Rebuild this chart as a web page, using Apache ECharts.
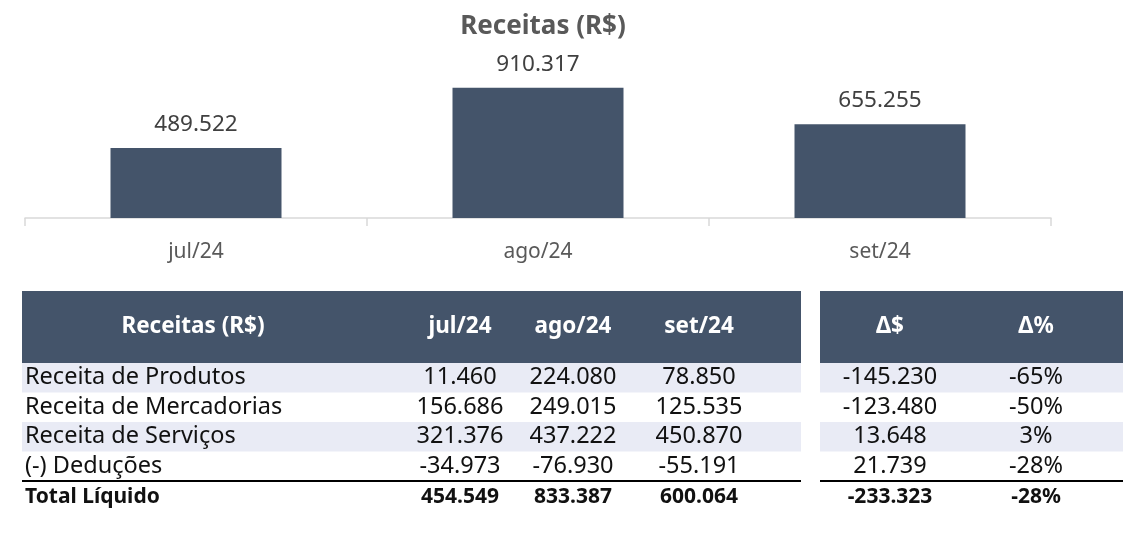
<!DOCTYPE html>
<html>
<head>
<meta charset="utf-8" />
<title>Receitas (R$)</title>
<script src="https://cdn.jsdelivr.net/npm/echarts@6/dist/echarts.min.js"></script>
<style>
  html, body { margin: 0; padding: 0; background: #fff; }
  #main { width: 1130px; height: 534px; }
</style>
</head>
<body>
<div id="main"></div>
<script>
  // dados do gráfico
  var months = ['jul/24', 'ago/24', 'set/24'];
  var receitaBruta = [489522, 910317, 655255];

  // dados da tabela
  var rowLabels = ['Receita de Produtos', 'Receita de Mercadorias', 'Receita de Serviços', '(-) Deduções'];
  var produtos = [11460, 224080, 78850];
  var mercadorias = [156686, 249015, 125535];
  var servicos = [321376, 437222, 450870];
  var deducoes = [-34973, -76930, -55191];
  var totalLiquido = [454549, 833387, 600064];
  var deltaValor = [-145230, -123480, 13648, 21739];
  var deltaPct = [-65, -50, 3, -28];
  var totalDeltaValor = -233323;
  var totalDeltaPct = -28;

  function fmt(v) {
    var s = Math.abs(v).toString();
    var out = '';
    while (s.length > 3) {
      out = '.' + s.slice(-3) + out;
      s = s.slice(0, -3);
    }
    return (v < 0 ? '-' : '') + s + out;
  }

  var FONT = '"Noto Sans", sans-serif';
  var dark = '#44546a';
  var band = '#e9ebf5';
  var txt = '#111111';

  // layout da tabela
  var tTop = 291, headH = 72, rowH = 29.5;
  var box1 = [22, 801], box2 = [820, 1123];
  var labelX = 25, labelHeadX = 193;
  var colX = [460, 573, 699];
  var dColX = [890, 1036];

  var rows = [produtos, mercadorias, servicos, deducoes];
  var g = [];

  function text(x, y, str, opt) {
    opt = opt || {};
    g.push({
      type: 'text', x: x, y: y, silent: true,
      style: {
        text: str,
        font: (opt.bold ? 'bold ' : '') + (opt.size || 23.5) + 'px ' + FONT,
        fill: opt.color || txt,
        align: opt.align || 'center',
        verticalAlign: 'middle'
      }
    });
  }
  function rect(x, y, w, h, color) {
    g.push({ type: 'rect', silent: true, shape: { x: x, y: y, width: w, height: h }, style: { fill: color } });
  }

  // cabeçalhos
  rect(box1[0], tTop, box1[1] - box1[0], headH, dark);
  rect(box2[0], tTop, box2[1] - box2[0], headH, dark);
  var hy = tTop + headH / 2;
  var head = { bold: true, color: '#fff', size: 22.5 };
  text(labelHeadX, hy, 'Receitas (R$)', head);
  months.forEach(function (m, i) { text(colX[i], hy, m, head); });
  text(dColX[0], hy, 'Δ$', head);
  text(dColX[1], hy, 'Δ%', head);

  // linhas
  rowLabels.forEach(function (lab, r) {
    var y0 = tTop + headH + r * rowH;
    if (r % 2 === 0) {
      rect(box1[0], y0, box1[1] - box1[0], rowH, band);
      rect(box2[0], y0, box2[1] - box2[0], rowH, band);
    }
    var cy = y0 + rowH / 2;
    text(labelX, cy, lab, { align: 'left' });
    rows[r].forEach(function (v, i) { text(colX[i], cy, fmt(v)); });
    text(dColX[0], cy, fmt(deltaValor[r]));
    text(dColX[1], cy, deltaPct[r] + '%');
  });

  // total
  var lineY = tTop + headH + rowLabels.length * rowH;
  g.push({ type: 'line', silent: true, shape: { x1: box1[0], y1: lineY, x2: box1[1], y2: lineY }, style: { stroke: '#000', lineWidth: 2 } });
  g.push({ type: 'line', silent: true, shape: { x1: box2[0], y1: lineY, x2: box2[1], y2: lineY }, style: { stroke: '#000', lineWidth: 2 } });
  var ty = lineY + rowH / 2 + 1;
  var tot = { bold: true, size: 21 };
  text(labelX, ty, 'Total Líquido', { align: 'left', bold: true, size: 21 });
  totalLiquido.forEach(function (v, i) { text(colX[i], ty, fmt(v), tot); });
  text(dColX[0], ty, fmt(totalDeltaValor), tot);
  text(dColX[1], ty, totalDeltaPct + '%', tot);

  var myChart = echarts.init(document.getElementById('main'));
  var option = {
    animation: false,
    title: {
      text: 'Receitas (R$)',
      left: 538,
      textAlign: 'center',
      top: 9,
      textStyle: { fontFamily: FONT, fontSize: 26, fontWeight: 'bold', color: '#595959' }
    },
    grid: { left: 25, right: 79, top: 75, bottom: 316, containLabel: false },
    xAxis: {
      type: 'category',
      data: months,
      axisLine: { lineStyle: { color: '#d9d9d9', width: 1.5 } },
      axisTick: { show: true, length: 8, lineStyle: { color: '#d9d9d9', width: 1.5 } },
      axisLabel: { margin: 24, fontFamily: FONT, fontSize: 21, color: '#595959' }
    },
    yAxis: {
      type: 'value', min: 0, max: 1000000, show: false,
      splitLine: { show: false }
    },
    series: [{
      type: 'bar',
      data: receitaBruta,
      barWidth: '50%',
      itemStyle: { color: dark },
      label: {
        show: true, position: 'top', distance: 12,
        fontFamily: FONT, fontSize: 22.5, color: '#404040',
        formatter: function (p) { return fmt(p.value); }
      }
    }],
    graphic: g
  };
  myChart.setOption(option);
</script>
</body>
</html>
